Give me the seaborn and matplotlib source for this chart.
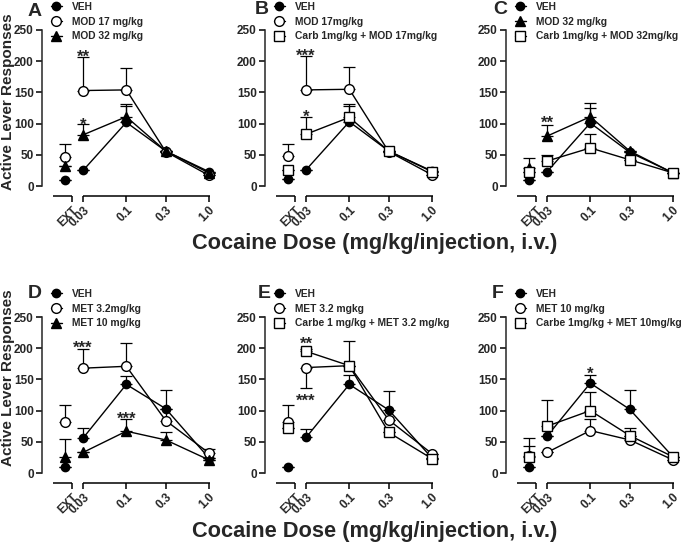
import matplotlib
matplotlib.use("Agg")
import matplotlib.pyplot as plt
import seaborn as sns
from matplotlib.lines import Line2D
from matplotlib.transforms import blended_transform_factory

sns.set_style("ticks")
plt.rcParams['font.family'] = ['Liberation Sans', 'DejaVu Sans']
plt.rcParams['font.weight'] = 'bold'

# x positions: EXT point drawn left of the axis break, then cocaine doses
doses = [0.018, 0.03, 0.1, 0.3, 1.0]
tick_pos = [0.022, 0.03, 0.1, 0.3, 1.0]
tick_labels = ["EXT", "0.03", "0.1", "0.3", "1.0"]
y_ticks = [0, 50, 100, 150, 200, 250]

# values: [EXT, 0.03, 0.1, 0.3, 1.0]; err > 0 drawn up, err < 0 drawn down
a_veh, a_veh_err = [10, 25, 102, 56, 23], [0, 0, 26, 0, 0]
a_mod17, a_mod17_err = [47, 153, 154, 55, 17], [20, 54, 35, 0, 0]
a_mod32, a_mod32_err = [32, 82, 111, 56, 21], [0, 17, 20, 0, 0]

b_veh, b_veh_err = [11, 26, 103, 56, 24], [0, 0, 25, 0, 0]
b_mod17, b_mod17_err = [48, 154, 155, 55, 18], [20, 55, 35, 0, 0]
b_carb, b_carb_err = [26, 83, 110, 56, 23], [0, 27, 22, 0, 0]

c_veh, c_veh_err = [9, 23, 101, 54, 21], [0, 0, 24, 0, 0]
c_mod32, c_mod32_err = [29, 80, 111, 56, 21], [16, 18, 22, 0, 0]
c_carb, c_carb_err = [22, 40, 61, 42, 21], [0, 10, 22, 0, 0]

d_veh, d_veh_err = [10, 56, 142, 103, 24], [0, 16, 14, 0, 0]
d_met32, d_met32_err = [82, 168, 171, 84, 32], [27, 30, 38, 49, 6]
d_met10, d_met10_err = [25, 33, 67, 53, 21], [29, 0, 20, 13, 0]

e_veh, e_veh_err = [9, 57, 142, 101, 24], [0, 14, 15, 30, 0]
e_met32, e_met32_err = [82, 169, 172, 85, 31], [27, -33, 40, 0, 0]
e_carb, e_carb_err = [72, 195, 172, 65, 23], [0, 4, 0, 0, 0]

f_veh, f_veh_err = [10, 59, 144, 102, 26], [0, 0, 13, 31, 0]
f_met10, f_met10_err = [27, 33, 68, 53, 21], [29, 0, 19, 6, 0]
f_carb, f_carb_err = [25, 75, 100, 60, 26], [19, 42, 30, 12, 0]

# significance marks: (dose, y centre, text)
a_stars = [(0.03, 214, "**"), (0.03, 106, "*")]
b_stars = [(0.03, 217, "***"), (0.03, 118, "*")]
c_stars = [(0.03, 109, "**")]
d_stars = [(0.03, 208, "***"), (0.1, 95, "***")]
e_stars = [(0.03, 214, "**"), (0.03, 124, "***")]
f_stars = [(0.1, 167, "*")]

filled_o = dict(marker='o', mfc='black', ms=6)
open_o = dict(marker='o', mfc='white', ms=7)
filled_t = dict(marker='^', mfc='black', ms=6.5)
open_s = dict(marker='s', mfc='white', ms=7)

panels = [
    ("A", [("VEH", a_veh, a_veh_err, filled_o),
           ("MOD 17 mg/kg", a_mod17, a_mod17_err, open_o),
           ("MOD 32 mg/kg", a_mod32, a_mod32_err, filled_t)], a_stars),
    ("B", [("VEH", b_veh, b_veh_err, filled_o),
           ("MOD 17mg/kg", b_mod17, b_mod17_err, open_o),
           ("Carb 1mg/kg + MOD 17mg/kg", b_carb, b_carb_err, open_s)], b_stars),
    ("C", [("VEH", c_veh, c_veh_err, filled_o),
           ("MOD 32 mg/kg", c_mod32, c_mod32_err, filled_t),
           ("Carb 1mg/kg + MOD 32mg/kg", c_carb, c_carb_err, open_s)], c_stars),
    ("D", [("VEH", d_veh, d_veh_err, filled_o),
           ("MET 3.2mg/kg", d_met32, d_met32_err, open_o),
           ("MET 10 mg/kg", d_met10, d_met10_err, filled_t)], d_stars),
    ("E", [("VEH", e_veh, e_veh_err, filled_o),
           ("MET 3.2 mgkg", e_met32, e_met32_err, open_o),
           ("Carbe 1 mg/kg + MET 3.2 mg/kg", e_carb, e_carb_err, open_s)], e_stars),
    ("F", [("VEH", f_veh, f_veh_err, filled_o),
           ("MET 10 mg/kg", f_met10, f_met10_err, open_o),
           ("Carbe 1mg/kg + MET 10mg/kg", f_carb, f_carb_err, open_s)], f_stars),
]

fig = plt.figure(figsize=(6.85, 5.44), dpi=100)
W, H = 685, 544
lefts = [42, 265, 506]
bottoms = [196, 483]
ax_w, ax_h = 173, 166

for i, (letter, series, stars) in enumerate(panels):
    row, col = divmod(i, 3)
    ax = fig.add_axes([lefts[col] / W, 1 - bottoms[row] / H, ax_w / W, ax_h / H])
    ax.set_xscale('log')
    ax.set_xlim(10 ** -2.02, 10 ** 0.073)
    ax.set_ylim(-16, 250)

    handles = []
    for label, vals, errs, st in series:
        lo = [-e if e < 0 else 0 for e in errs]
        up = [e if e > 0 else 0 for e in errs]
        ax.errorbar(doses, vals, yerr=[lo, up], fmt='none', ecolor='black',
                    elinewidth=0.9, capsize=4, capthick=0.9, clip_on=False, zorder=2)
        sns.lineplot(x=doses[1:], y=vals[1:], ax=ax, color='black', lw=1,
                     marker=st['marker'], markerfacecolor=st['mfc'],
                     markeredgecolor='black', markeredgewidth=1, markersize=st['ms'],
                     clip_on=False, zorder=3)
        sns.lineplot(x=doses[:1], y=vals[:1], ax=ax, color='black', lw=0,
                     marker=st['marker'], markerfacecolor=st['mfc'],
                     markeredgecolor='black', markeredgewidth=1, markersize=st['ms'],
                     clip_on=False, zorder=3)
        handles.append(Line2D([0], [0], color='black', lw=1, marker=st['marker'],
                              mfc=st['mfc'], mec='black', mew=1, ms=st['ms']))

    for x, y, txt in stars:
        ax.annotate(txt, xy=(x, y), xytext=(0, -7), textcoords='offset points',
                    ha='center', va='baseline', fontsize=12, fontweight='bold')

    ax.legend(handles, [s[0] for s in series], loc='upper left',
              bbox_to_anchor=(0.02, 1.2), frameon=False, borderpad=0,
              handlelength=1.1, handletextpad=1.0, labelspacing=0.45,
              prop={'weight': 'bold', 'size': 7.4})

    # broken x axis
    trans = blended_transform_factory(ax.transData, ax.transAxes)
    ax.plot([0.013, 0.022], [0, 0], transform=trans, color='black', lw=1.1,
            clip_on=False, solid_capstyle='butt')
    ax.plot([0.0297, 1.03], [0, 0], transform=trans, color='black', lw=1.1,
            clip_on=False, solid_capstyle='butt')
    ax.spines['bottom'].set_visible(False)
    ax.spines['top'].set_visible(False)
    ax.spines['right'].set_visible(False)
    ax.spines['left'].set_bounds(0, 250)
    ax.spines['left'].set_linewidth(1.1)

    ax.set_xticks(tick_pos)
    ax.set_xticklabels(tick_labels, rotation=45, ha='right', va='top',
                       rotation_mode='anchor', fontsize=8.5, fontweight='bold')
    ax.xaxis.set_minor_locator(matplotlib.ticker.NullLocator())
    ax.set_yticks(y_ticks)
    ax.set_yticklabels([str(t) for t in y_ticks], fontsize=8.5, fontweight='bold')
    ax.tick_params(axis='both', width=1.1, length=4, color='black', pad=2)
    ax.set_xlabel("")
    ax.set_ylabel("")

letter_pos = [(35, 12), (262, 10), (500, 10), (35, 293), (264, 293), (498, 293)]
for (letter, _, _), (px, py) in zip(panels, letter_pos):
    fig.text(px / W, 1 - py / H, letter, ha='center', va='center',
             fontsize=14, fontweight='bold')

for cy in (102, 378):
    fig.text(8 / W, 1 - cy / H, "Active Lever Responses", rotation=90,
             ha='center', va='center', fontsize=11, fontweight='bold')
for cy in (243, 532):
    fig.text(375 / W, 1 - cy / H, "Cocaine Dose (mg/kg/injection, i.v.)",
             ha='center', va='center', fontsize=15.7, fontweight='bold')

fig.savefig("out.png", dpi=100)
